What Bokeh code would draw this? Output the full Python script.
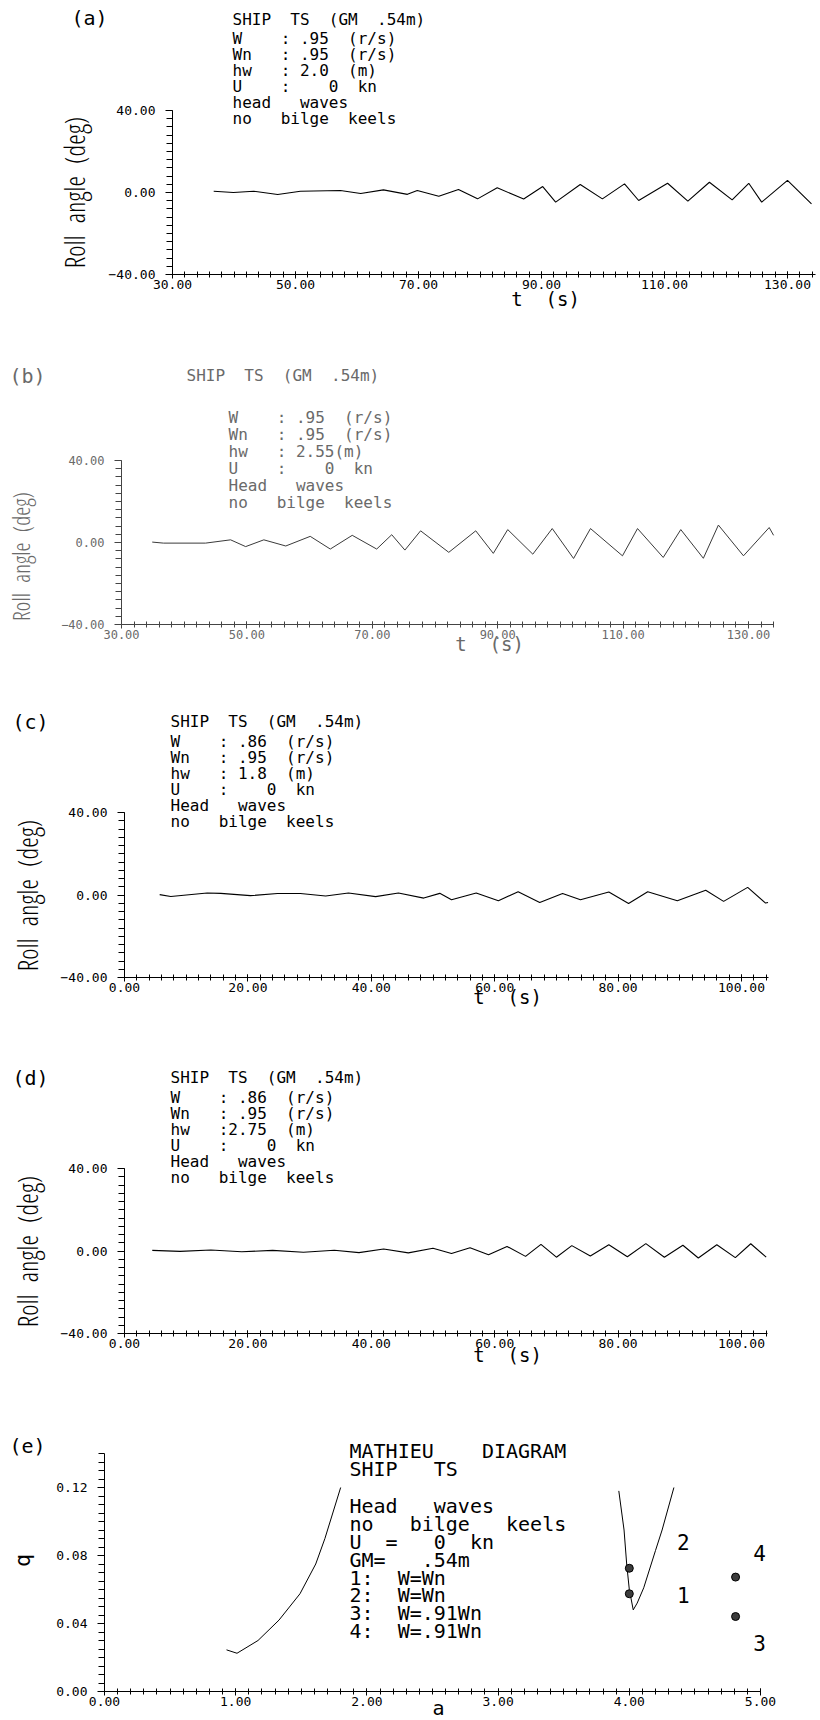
import math
import re
from bokeh.plotting import figure
from bokeh.models import Range1d, FixedTicker, Label, NumeralTickFormatter
from bokeh.layouts import column
from bokeh.embed import file_html
from bokeh.resources import INLINE

# ---------------- data ----------------
a_t = [36.7, 39.9, 43.2, 47.1, 50.8, 57.3, 60.6, 64.3, 68.2, 69.8, 73.3, 76.5, 79.6, 82.8, 87.1,
       90.2, 92.3, 96.3, 99.9, 103.5, 105.8, 110.5, 113.8, 117.3, 121.0, 123.7, 125.8, 130.0, 133.9]
a_roll = [0.6, 0.0, 0.6, -1.0, 0.6, 1.0, -0.5, 1.3, -0.9, 1.0, -1.8, 1.5, -3.1, 2.3, -3.2,
          2.9, -4.7, 3.9, -3.1, 4.2, -3.9, 4.5, -4.2, 5.0, -3.6, 4.5, -4.7, 5.9, -5.5]

b_t = [34.9, 36.7, 43.4, 47.4, 49.8, 52.7, 56.2, 60.1, 63.3, 66.8, 70.7, 73.1, 75.2, 77.7, 82.2,
       86.5, 89.3, 91.6, 95.6, 98.7, 102.1, 104.8, 109.9, 112.3, 116.4, 119.2, 122.8, 125.2, 129.2,
       133.3, 134.0]
b_roll = [0.2, -0.3, -0.3, 1.3, -2.0, 1.3, -1.7, 3.0, -3.2, 3.5, -3.2, 3.8, -3.7, 5.7, -4.8,
          5.7, -5.3, 6.3, -5.7, 6.8, -7.8, 6.8, -6.5, 6.8, -7.3, 6.3, -7.7, 8.5, -6.5,
          7.3, 3.5]

c_t = [5.7, 7.5, 13.4, 15.6, 20.4, 24.8, 28.5, 32.6, 36.3, 40.7, 44.4, 48.5, 51.1, 53.0, 57.0,
       60.6, 63.8, 67.3, 71.0, 73.9, 78.5, 81.7, 84.8, 89.6, 94.2, 97.1, 101.0, 103.9, 104.3]
c_roll = [0.2, -0.7, 1.0, 0.8, -0.3, 0.7, 0.7, -0.5, 1.0, -0.8, 1.0, -1.5, 0.8, -2.3, 1.0,
          -2.8, 1.6, -3.6, 0.7, -2.3, 1.5, -4.1, 1.6, -2.8, 2.3, -3.1, 3.7, -3.9, -3.6]

d_t = [4.5, 9.0, 14.0, 19.0, 24.0, 29.0, 34.0, 38.0, 42.0, 46.0, 50.0, 53.0, 56.0, 59.0, 62.0,
       65.0, 67.5, 70.0, 72.5, 75.5, 78.5, 81.5, 84.5, 87.5, 90.5, 93.0, 96.0, 99.0, 101.5, 104.0]
d_roll = [0.3, -0.2, 0.5, -0.4, 0.3, -0.6, 0.4, -0.8, 1.0, -0.9, 1.3, -1.2, 1.6, -1.8, 2.2,
          -2.6, 3.2, -3.0, 2.6, -2.4, 3.0, -2.8, 3.6, -3.0, 2.8, -3.4, 3.0, -3.2, 3.5, -3.0]

e_left_a = [0.93, 1.01, 1.17, 1.33, 1.49, 1.61, 1.68, 1.74, 1.80]
e_left_q = [0.0245, 0.0225, 0.030, 0.042, 0.0575, 0.075, 0.090, 0.105, 0.120]
e_v_a = [3.92, 3.96, 3.98, 4.00, 4.03, 4.06, 4.11, 4.20, 4.25, 4.34]
e_v_q = [0.118, 0.095, 0.075, 0.060, 0.048, 0.052, 0.061, 0.083, 0.095, 0.120]
e_pts_a = [4.00, 4.00, 4.81, 4.81]
e_pts_q = [0.0575, 0.0725, 0.0441, 0.0673]
e_pts_lab = ["1", "2", "3", "4"]

roll_ticks = [-40, 0, 40]
ab_xticks = [30, 50, 70, 90, 110, 130]
cd_xticks = [0, 20, 40, 60, 80, 100]
e_xticks = [0, 1, 2, 3, 4, 5]
e_yticks = [0.0, 0.04, 0.08, 0.12]

MONO = "DejaVu Sans Mono"
COND = "Open Sans Condensed Light"

PAGE_W = 820


def keep_spaces(s):
    return re.sub(r" {2,}", lambda m: " " + "\u00a0" * (len(m.group()) - 1), s)


class Panel:
    """One figure covering a horizontal band of the page; axes drawn at fixed locations."""

    def __init__(self, band, xaxis, yaxis, xticks, xminor, yticks, yminor, color, axcolor,
                 lab_size="13px", overrides=None):
        top, bottom = band
        L, x0, pxu, xend = xaxis
        B, T, y0, y1 = yaxis
        self.L, self.x0, self.pxu = L, x0, pxu
        self.B, self.y0 = B, y0
        self.ppu = (B - T) / (y1 - y0)
        p = figure(width=PAGE_W, height=bottom - top,
                   x_range=Range1d(self.X(0), self.X(PAGE_W)),
                   y_range=Range1d(self.Y(bottom), self.Y(top)),
                   output_backend="svg", toolbar_location=None, title=None,
                   min_border_left=0, min_border_right=0, min_border_top=0, min_border_bottom=0)
        p.xgrid.visible = False
        p.ygrid.visible = False
        p.outline_line_color = None
        p.background_fill_color = "white"
        p.border_fill_color = "white"
        p.xaxis.fixed_location = y0
        p.xaxis.bounds = (x0, xend)
        p.yaxis.fixed_location = x0
        p.yaxis.bounds = (y0, y1)
        for ax, ticks, minor in ((p.xaxis[0], xticks, xminor), (p.yaxis[0], yticks, yminor)):
            ax.ticker = FixedTicker(ticks=ticks, minor_ticks=minor)
            ax.formatter = NumeralTickFormatter(format="0.00")
            ax.axis_line_color = axcolor
            ax.major_tick_line_color = axcolor
            ax.minor_tick_line_color = axcolor
            ax.major_label_text_color = color
            ax.major_label_text_font = MONO
            ax.major_label_text_font_size = lab_size
        p.xaxis.major_tick_in = 3
        p.xaxis.major_tick_out = 4
        p.xaxis.minor_tick_in = 3
        p.xaxis.minor_tick_out = 3
        p.xaxis.major_label_standoff = 1
        p.yaxis.major_tick_in = 0
        p.yaxis.major_tick_out = 7
        p.yaxis.minor_tick_in = 0
        p.yaxis.minor_tick_out = 6
        p.yaxis.major_label_standoff = 10
        if overrides:
            p.yaxis.major_label_overrides = overrides
        self.p = p

    def X(self, px):
        return self.x0 + (px - self.L) / self.pxu

    def Y(self, py):
        return self.y0 + (self.B - py) / self.ppu

    def put(self, px, py, text, size, color, font=MONO, align="left", angle=0.0):
        self.p.add_layout(Label(x=self.X(px), y=self.Y(py), text=keep_spaces(text),
                                text_font=font, text_font_size=size, text_color=color,
                                text_align=align, text_baseline="middle", angle=angle))

    def block(self, px, ys, lines, size, color):
        for yy, t in zip(ys, lines):
            self.put(px, yy, t, size, color)


minus = {-40: "\u221240.00"}
roll_minor = list(range(-40, 41, 4))
ab_minor = list(range(30, 135, 2))
cd_minor = list(range(0, 105, 2))

# ---------------- panel (a) ----------------
A = Panel((0, 318), (172, 30, 6.15, 134.5), (274, 110, -40, 40),
          ab_xticks, ab_minor, roll_ticks, roll_minor, "black", "black", overrides=minus)
A.p.line(a_t, a_roll, line_color="black", line_width=1.1)
A.put(71, 17, "(a)", "20px", "black")
A.block(232, [19, 38, 54, 70, 86, 102, 118],
        ["SHIP  TS  (GM  .54m)", "W    : .95  (r/s)", "Wn   : .95  (r/s)", "hw   : 2.0  (m)",
         "U    :    0  kn", "head   waves", "no   bilge  keels"], "16px", "black")
A.put(74, 192, "Roll  angle  (deg)", "27px", "black", COND, "center", math.pi / 2)
A.put(545, 298, "t  (s)", "19px", "black", MONO, "center")

# ---------------- panel (b) ----------------
GRAY = "#6a6a6a"
Bp = Panel((318, 665), (121, 30, 6.27, 134.0), (624, 460, -40, 40),
           ab_xticks, ab_minor, roll_ticks, roll_minor, GRAY, "#444444",
           lab_size="12px", overrides=minus)
Bp.p.line(b_t, b_roll, line_color="#3a3a3a", line_width=1.0)
Bp.put(9, 375, "(b)", "20px", GRAY)
Bp.put(186, 375, "SHIP  TS  (GM  .54m)", "16px", GRAY)
Bp.block(228, [417, 434, 451, 468, 485, 502],
         ["W    : .95  (r/s)", "Wn   : .95  (r/s)", "hw   : 2.55(m)",
          "U    :    0  kn", "Head   waves", "no   bilge  keels"], "16px", GRAY)
Bp.put(20, 556, "Roll  angle  (deg)", "23px", GRAY, COND, "center", math.pi / 2)
Bp.put(489, 643, "t  (s)", "19px", GRAY, MONO, "center")

# ---------------- panel (c) ----------------
C = Panel((665, 1010), (124, 0, 6.17, 104.4), (977, 812, -40, 40),
          cd_xticks, cd_minor, roll_ticks, roll_minor, "black", "black", overrides=minus)
C.p.line(c_t, c_roll, line_color="black", line_width=1.1)
C.put(12, 721, "(c)", "20px", "black")
C.block(170, [721, 741, 757, 773, 789, 805, 821],
        ["SHIP  TS  (GM  .54m)", "W    : .86  (r/s)", "Wn   : .95  (r/s)", "hw   : 1.8  (m)",
         "U    :    0  kn", "Head   waves", "no   bilge  keels"], "16px", "black")
C.put(27, 895, "Roll  angle  (deg)", "27px", "black", COND, "center", math.pi / 2)
C.put(507, 996, "t  (s)", "19px", "black", MONO, "center")

# ---------------- panel (d) ----------------
D = Panel((1010, 1375), (124, 0, 6.17, 104.2), (1333, 1168, -40, 40),
          cd_xticks, cd_minor, roll_ticks, roll_minor, "black", "black", overrides=minus)
D.p.line(d_t, d_roll, line_color="black", line_width=1.1)
D.put(12, 1077, "(d)", "20px", "black")
D.block(170, [1077, 1097, 1113, 1129, 1145, 1161, 1177],
        ["SHIP  TS  (GM  .54m)", "W    : .86  (r/s)", "Wn   : .95  (r/s)", "hw   :2.75  (m)",
         "U    :    0  kn", "Head   waves", "no   bilge  keels"], "16px", "black")
D.put(27, 1251, "Roll  angle  (deg)", "27px", "black", COND, "center", math.pi / 2)
D.put(507, 1354, "t  (s)", "19px", "black", MONO, "center")

# ---------------- panel (e) ----------------
E = Panel((1375, 1718), (104, 0, 131.2, 5.0), (1691, 1453, 0.0, 0.14),
          e_xticks, [i / 10 for i in range(0, 51)], e_yticks,
          [i * 0.005 for i in range(0, 29)], "black", "black")
E.p.line(e_left_a, e_left_q, line_color="black", line_width=1.0)
E.p.line(e_v_a, e_v_q, line_color="black", line_width=1.0)
E.p.scatter(e_pts_a, e_pts_q, marker="circle", size=8, fill_color="#3c3c3c",
            line_color="black", line_width=1)
num_off = [(54, -1), (54, 26), (24, -26), (24, 24)]
for a_, q_, t_, (ox, oy) in zip(e_pts_a, e_pts_q, e_pts_lab, num_off):
    E.p.add_layout(Label(x=a_, y=q_, x_offset=ox, y_offset=oy, text=t_, text_font=MONO,
                         text_font_size="21px", text_color="black", text_align="center",
                         text_baseline="middle"))
E.put(9, 1445, "(e)", "20px", "black")
E.block(349, [1450, 1468, 1505, 1523, 1541, 1559, 1577, 1594, 1612, 1630],
        ["MATHIEU    DIAGRAM", "SHIP   TS", "Head   waves", "no   bilge   keels",
         "U  =   0  kn", "GM=   .54m", "1:  W=Wn", "2:  W=Wn", "3:  W=.91Wn", "4:  W=.91Wn"],
        "20px", "black")
E.put(22, 1560, "q", "22px", "black", MONO, "center", math.pi / 2)
E.put(438, 1707, "a", "20px", "black", MONO, "center")

layout = column(A.p, Bp.p, C.p, D.p, E.p, spacing=0)
open("out.html", "w").write(file_html(layout, INLINE))
